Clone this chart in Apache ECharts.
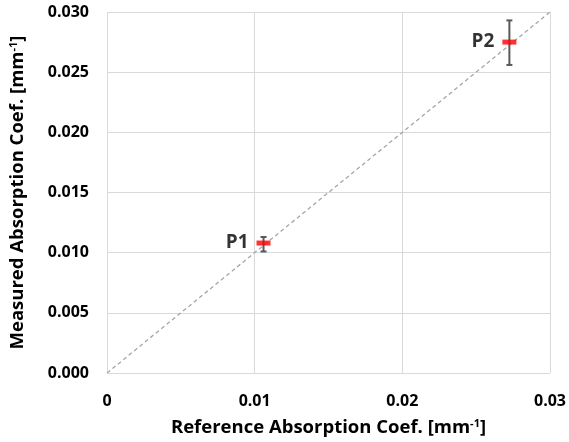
<!DOCTYPE html>
<html><head><meta charset="utf-8">
<script src="https://cdn.jsdelivr.net/npm/echarts@6/dist/echarts.min.js"></script>
<style>html,body{margin:0;padding:0;background:#fff}#c{width:569px;height:442px}</style>
</head><body><div id="c"></div>
<script>
var pointNames = ['P1', 'P2'];
var refValues = [0.0106, 0.02725];
var measValues = [0.0108, 0.0275];
var errLow = [0.0101, 0.0256];
var errHigh = [0.0113, 0.0293];
var xTicks = [0, 0.01, 0.02, 0.03];
var yTicks = [0, 0.005, 0.010, 0.015, 0.020, 0.025, 0.030];
var diagLine = [[0, 0], [0.03, 0.03]];

var FONT = '"Open Sans", sans-serif';
var chart = echarts.init(document.getElementById('c'), null, {renderer: 'canvas'});
var errData = refValues.map(function (x, i) { return [x, errLow[i], errHigh[i]]; });
var ptData = refValues.map(function (x, i) { return {value: [x, measValues[i]], name: pointNames[i]}; });

chart.setOption({
  animation: false,
  grid: {left: 103, right: 19, top: 12, bottom: 69, show: false},
  xAxis: {
    type: 'value', min: 0, max: 0.03, interval: 0.01,
    axisLine: {show: false}, axisTick: {show: false},
    splitLine: {show: true, lineStyle: {color: '#d9d9d9', width: 1}},
    axisLabel: {fontFamily: FONT, fontWeight: 'bold', fontSize: 16, color: '#000', margin: 20,
      formatter: function (v) { return v === 0 ? '0' : v.toFixed(2); }},
    name: '{a|Reference Absorption Coef. [mm}{s|-1}{a|]}',
    nameLocation: 'middle', nameGap: 45,
    nameTextStyle: {rich: {
      a: {fontFamily: FONT, fontWeight: 'bold', fontSize: 18.5, color: '#000'},
      s: {fontFamily: FONT, fontWeight: 'bold', fontSize: 11, color: '#000', verticalAlign: 'top', padding: [0, 0, 8, 0]}
    }}
  },
  yAxis: {
    type: 'value', min: 0, max: 0.03, interval: 0.005,
    axisLine: {show: false}, axisTick: {show: false},
    splitLine: {show: true, lineStyle: {color: '#d9d9d9', width: 1}},
    axisLabel: {fontFamily: FONT, fontWeight: 'bold', fontSize: 16, color: '#000', margin: 18,
      formatter: function (v) { return v.toFixed(3); }},
    name: '{a|Measured Absorption Coef. [mm}{s|-1}{a|]}',
    nameLocation: 'middle', nameGap: 80,
    nameTextStyle: {rich: {
      a: {fontFamily: FONT, fontWeight: 'bold', fontSize: 18.5, color: '#000'},
      s: {fontFamily: FONT, fontWeight: 'bold', fontSize: 11, color: '#000', verticalAlign: 'top', padding: [0, 0, 8, 0]}
    }}
  },
  series: [
    {
      type: 'line', data: diagLine, symbol: 'none', silent: true,
      lineStyle: {color: '#a6a6a6', width: 1.3, type: [4, 3]}, z: 1
    },
    {
      type: 'custom', data: errData, z: 2,
      renderItem: function (params, api) {
        var top = api.coord([api.value(0), api.value(2)]);
        var bot = api.coord([api.value(0), api.value(1)]);
        var cw = 3;
        var st = {stroke: '#595959', lineWidth: 2};
        return {type: 'group', children: [
          {type: 'line', shape: {x1: top[0], y1: top[1], x2: bot[0], y2: bot[1]}, style: st},
          {type: 'line', shape: {x1: top[0] - cw, y1: top[1], x2: top[0] + cw, y2: top[1]}, style: st},
          {type: 'line', shape: {x1: bot[0] - cw, y1: bot[1], x2: bot[0] + cw, y2: bot[1]}, style: st}
        ]};
      }
    },
    {
      type: 'scatter', data: ptData, symbol: 'rect', symbolSize: [14, 5], z: 3,
      itemStyle: {color: '#ff0000'},
      label: {show: true, position: 'left', distance: 8, formatter: '{b}',
        fontFamily: FONT, fontWeight: 'bold', fontSize: 19, color: '#000'}
    }
  ]
});
</script></body></html>
